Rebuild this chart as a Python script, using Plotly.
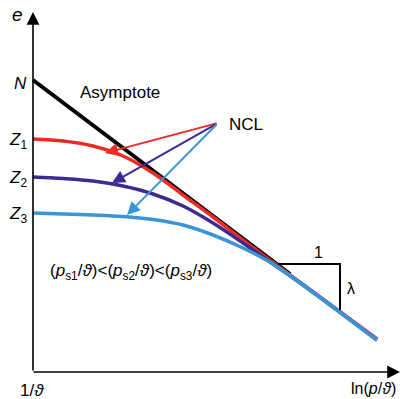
import plotly.graph_objects as go

# Data units: ln(p/theta) on x (origin at 1/theta), e on y
asym_x = [0, 257]
asym_e = [292, 98]

red_x = [0, 30, 60, 90, 120, 150, 180, 210, 240, 344]
red_e = [233, 231, 226, 216, 199, 177, 155, 132, 109.5, 33]

dblue_x = [0, 30, 60, 90, 120, 150, 180, 210, 240, 270, 344]
dblue_e = [195, 193.5, 191, 186, 178, 166, 149, 129, 108, 87, 32]

lblue_x = [0, 30, 60, 90, 120, 150, 180, 210, 240, 270, 300, 344]
lblue_e = [159, 158, 157, 155.5, 152.5, 147, 137, 124, 108, 87, 65, 32]

tri_x = [245, 307, 307]
tri_e = [108, 108, 62]

FONT = "Liberation Sans, Arial, sans-serif"
RED = "#ec2b24"
DBLUE = "#3d2b90"
LBLUE = "#3a95d6"

fig = go.Figure()
fig.add_trace(go.Scatter(x=asym_x, y=asym_e, mode="lines",
                         line=dict(color="black", width=4), hoverinfo="skip"))
fig.add_trace(go.Scatter(x=red_x, y=red_e, mode="lines",
                         line=dict(color=RED, width=3.5, shape="spline", smoothing=1), hoverinfo="skip"))
fig.add_trace(go.Scatter(x=dblue_x, y=dblue_e, mode="lines",
                         line=dict(color=DBLUE, width=3.5, shape="spline", smoothing=1), hoverinfo="skip"))
fig.add_trace(go.Scatter(x=lblue_x, y=lblue_e, mode="lines",
                         line=dict(color=LBLUE, width=3.5, shape="spline", smoothing=1), hoverinfo="skip"))
fig.add_trace(go.Scatter(x=tri_x, y=tri_e, mode="lines",
                         line=dict(color="black", width=2), hoverinfo="skip"))

ann = []
# axes with arrows
ann.append(dict(x=0, y=360, ax=0, ay=0, xref="x", yref="y", axref="x", ayref="y",
                text="", showarrow=True, arrowhead=2, arrowsize=1.6, arrowwidth=1.6,
                arrowcolor="black", standoff=0, startstandoff=0))
ann.append(dict(x=367, y=0, ax=-1, ay=0, xref="x", yref="y", axref="x", ayref="y",
                text="", showarrow=True, arrowhead=2, arrowsize=1.6, arrowwidth=1.6,
                arrowcolor="black", standoff=0, startstandoff=0))
# NCL arrows
tail = (185, 249)
for (tx, ty), col in [((72, 219), RED), ((79, 189), DBLUE), ((94, 157), LBLUE)]:
    ann.append(dict(x=tx, y=ty, ax=tail[0], ay=tail[1], xref="x", yref="y", axref="x", ayref="y",
                    text="", showarrow=True, arrowhead=2, arrowsize=1.3, arrowwidth=2,
                    arrowcolor=col, standoff=0, startstandoff=0))

def label(x, y, text, size=17, xanchor="center", yanchor="middle"):
    ann.append(dict(x=x, y=y, xref="x", yref="y", text=text, showarrow=False,
                    xanchor=xanchor, yanchor=yanchor, font=dict(family=FONT, size=size, color="black")))

label(-16, 358, "<i>e</i>", 19)
label(-4, 289, "<i>N</i>", 17, xanchor="right")
label(-4, 231, "<i>Z</i><sub>1</sub>", 17, xanchor="right")
label(-4, 193, "<i>Z</i><sub>2</sub>", 17, xanchor="right")
label(-4, 157, "<i>Z</i><sub>3</sub>", 17, xanchor="right")
label(87, 280, "Asymptote", 17)
label(194, 248, "NCL", 17, xanchor="left")
label(98, 100, "(<i>p</i><sub>s1</sub>/<i>ϑ</i>)<(<i>p</i><sub>s2</sub>/<i>ϑ</i>)<(<i>p</i><sub>s3</sub>/<i>ϑ</i>)", 17)
label(285, 120, "1", 16)
label(318, 84, "λ", 16)
label(-1, -18, "1/<i>ϑ</i>", 17)
label(365, -16, "ln(<i>p</i>/<i>ϑ</i>)", 16, xanchor="right")

fig.update_layout(
    width=413, height=399, margin=dict(l=0, r=0, t=0, b=0),
    paper_bgcolor="white", plot_bgcolor="white", showlegend=False,
    xaxis=dict(range=[-33, 380], visible=False, fixedrange=True),
    yaxis=dict(range=[-27, 372], visible=False, fixedrange=True),
    annotations=ann,
)
fig.write_html("out.html")
